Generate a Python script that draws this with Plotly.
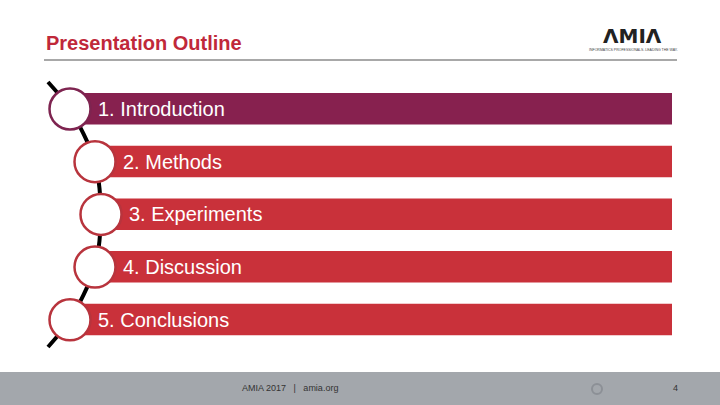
import plotly.graph_objects as go

items = ["1. Introduction", "2. Methods", "3. Experiments", "4. Discussion", "5. Conclusions"]
title = "Presentation Outline"
footer_text = "AMIA 2017   |   amia.org"
page_number = "4"

W, H = 720, 405
row_y0, row_step = 109, 52.7
circle_x = [70, 95, 101, 95, 70]
bar_colors = ["#87214F", "#C9313A", "#C9313A", "#C9313A", "#C9313A"]
circle_line = ["#7E2450", "#B8343D", "#B8343D", "#B8343D", "#B8343D"]

fig = go.Figure()
shapes, annotations = [], []

ys = [row_y0 + row_step * i for i in range(len(items))]
fig.add_trace(go.Scatter(x=[48] + circle_x + [48], y=[82] + ys + [347], mode="lines",
                         line=dict(color="black", width=4, shape="spline", smoothing=0.8),
                         hoverinfo="skip", showlegend=False))

for i, (label, y) in enumerate(zip(items, ys)):
    cx = circle_x[i]
    shapes.append(dict(type="rect", x0=cx, x1=672, y0=y - 16, y1=y + 15.5,
                       fillcolor=bar_colors[i], line=dict(width=0), layer="above"))
    shapes.append(dict(type="circle", x0=cx - 20.5, x1=cx + 20.5, y0=y - 20.5, y1=y + 20.5,
                       fillcolor="white", line=dict(color=circle_line[i], width=2.5), layer="above"))
    annotations.append(dict(x=cx + 26, y=y, text=label, showarrow=False, xanchor="left",
                            yanchor="middle", font=dict(family="Liberation Sans, Arial", size=20, color="white")))

annotations.append(dict(x=44, y=43, text="<b>" + title + "</b>", showarrow=False, xanchor="left",
                        yanchor="middle", font=dict(family="Liberation Sans, Arial", size=20, color="#C0283A")))
shapes.append(dict(type="line", x0=44, x1=677, y0=60, y1=60, line=dict(color="#A8A8A8", width=2)))
annotations.append(dict(x=632, y=36, text="<b>ΛMIΛ</b>", showarrow=False, xanchor="center",
                        yanchor="middle", font=dict(family="DejaVu Sans", size=20, color="#222")))
annotations.append(dict(x=633, y=50, text="INFORMATICS PROFESSIONALS. LEADING THE WAY.", showarrow=False,
                        xanchor="center", yanchor="middle", font=dict(family="Liberation Sans", size=3.5, color="#444")))

shapes.append(dict(type="rect", x0=0, x1=W, y0=372, y1=H, fillcolor="#A3A7AC", line=dict(width=0), layer="below"))
shapes.append(dict(type="circle", x0=592, x1=602, y0=384, y1=394, fillcolor="rgba(0,0,0,0)",
                   line=dict(color="#8C9096", width=2)))
annotations.append(dict(x=290, y=388, text=footer_text, showarrow=False, xanchor="center",
                        yanchor="middle", font=dict(family="Liberation Sans", size=9, color="#333")))
annotations.append(dict(x=675, y=388, text=page_number, showarrow=False, xanchor="center",
                        yanchor="middle", font=dict(family="Liberation Sans", size=9, color="#333")))

fig.update_layout(width=W, height=H, margin=dict(l=0, r=0, t=0, b=0),
                  paper_bgcolor="white", plot_bgcolor="white",
                  xaxis=dict(range=[0, W], visible=False, fixedrange=True),
                  yaxis=dict(range=[H, 0], visible=False, fixedrange=True),
                  shapes=shapes, annotations=annotations)
fig.write_html("out.html", config={"displayModeBar": False},
               post_script="document.body.style.margin='0';document.body.style.overflow='hidden';")
